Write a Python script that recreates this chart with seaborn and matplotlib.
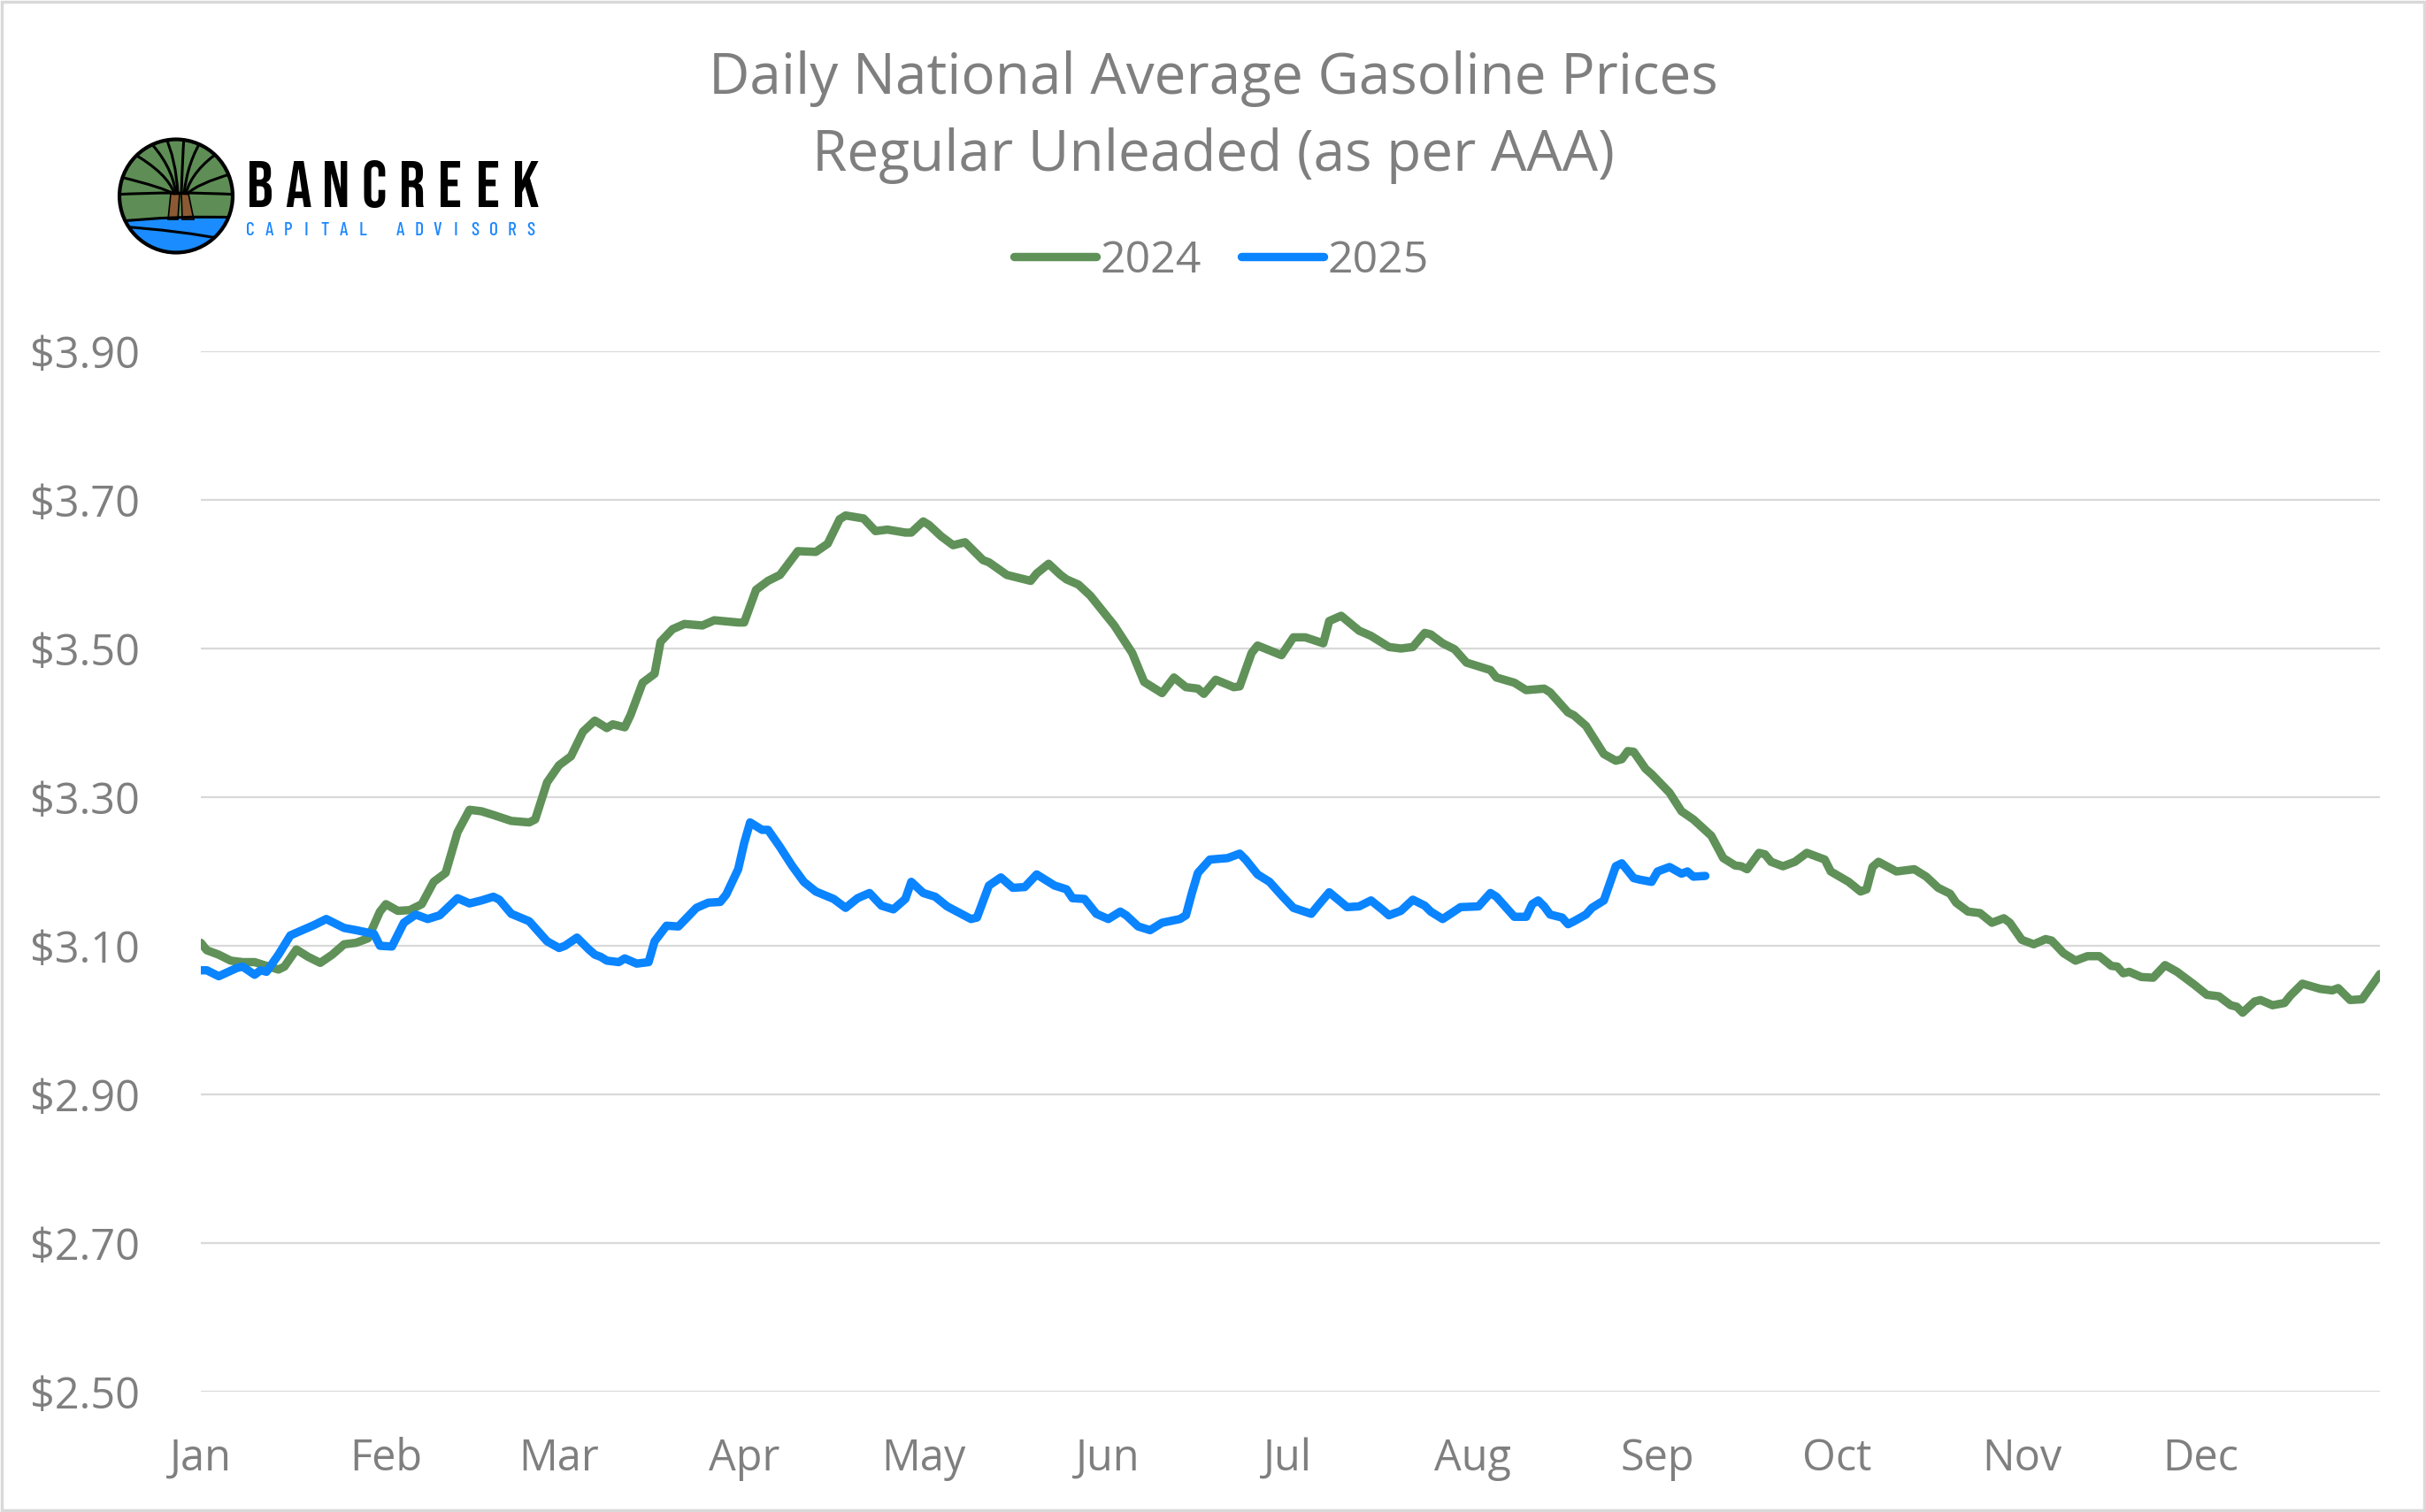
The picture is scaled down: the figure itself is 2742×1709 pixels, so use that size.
import numpy as np
import pandas as pd
import matplotlib
matplotlib.use("Agg")
import matplotlib.pyplot as plt
import seaborn as sns
from matplotlib.patches import Circle, Polygon, PathPatch, Rectangle
from matplotlib.path import Path
from matplotlib.ticker import FuncFormatter

# ---------------- data (day-of-year, $/gal) ----------------
days_2024 = [0, 1, 3, 5, 7, 9, 11, 13, 14, 16, 18, 20, 22, 24, 26, 28, 30, 31, 33, 35,
             37, 39, 41, 43, 45, 47, 49, 52, 55, 56, 58, 60, 62, 64, 66, 68, 69, 71, 72, 74,
             76, 77, 79, 81, 84, 86, 90, 91, 93, 95, 97, 100, 103, 105, 107, 108, 111, 113, 115, 118,
             119, 121, 122, 124, 126, 128, 131, 132, 135, 139, 140, 142, 144, 145, 147, 149, 150, 152, 153, 156,
             158, 161, 163, 165, 167, 168, 170, 173, 174, 176, 177, 181, 183, 185, 188, 189, 191, 194, 196, 199,
             201, 203, 205, 206, 208, 210, 212, 216, 217, 220, 222, 225, 226, 229, 230, 232, 235, 237, 238, 239,
             240, 242, 243, 246, 248, 250, 253, 255, 257, 258, 259, 261, 262, 263, 265, 267, 269, 272, 273, 276,
             278, 279, 280, 281, 284, 287, 289, 291, 293, 294, 296, 298, 300, 302, 303, 305, 307, 309, 310, 312,
             314, 316, 318, 320, 321, 322, 323, 325, 327, 329, 331, 334, 336, 338, 340, 341, 342, 344, 345, 347,
             349, 350, 352, 355, 357, 358, 360, 362, 365]
price_2024 = [3.104, 3.094, 3.088, 3.080, 3.078, 3.078, 3.073, 3.068, 3.072, 3.095, 3.085, 3.077, 3.088, 3.102, 3.104, 3.110, 3.146, 3.156, 3.147, 3.148,
              3.156, 3.186, 3.198, 3.253, 3.283, 3.281, 3.276, 3.268, 3.266, 3.270, 3.320, 3.343, 3.355, 3.388, 3.403, 3.393, 3.398, 3.394, 3.411, 3.454,
              3.466, 3.509, 3.526, 3.533, 3.531, 3.538, 3.535, 3.535, 3.579, 3.591, 3.599, 3.631, 3.630, 3.641, 3.674, 3.679, 3.675, 3.658, 3.660, 3.656,
              3.656, 3.671, 3.666, 3.651, 3.639, 3.643, 3.619, 3.616, 3.599, 3.591, 3.601, 3.614, 3.599, 3.593, 3.586, 3.571, 3.561, 3.541, 3.531, 3.494,
              3.455, 3.440, 3.461, 3.448, 3.446, 3.439, 3.458, 3.448, 3.449, 3.494, 3.504, 3.491, 3.515, 3.515, 3.507, 3.537, 3.544, 3.524, 3.517, 3.502,
              3.500, 3.502, 3.521, 3.519, 3.507, 3.499, 3.481, 3.471, 3.461, 3.454, 3.444, 3.446, 3.441, 3.414, 3.410, 3.396, 3.358, 3.349, 3.351, 3.362,
              3.361, 3.338, 3.331, 3.306, 3.281, 3.270, 3.248, 3.218, 3.208, 3.207, 3.203, 3.225, 3.223, 3.213, 3.207, 3.213, 3.225, 3.216, 3.200, 3.186,
              3.173, 3.176, 3.206, 3.213, 3.200, 3.203, 3.193, 3.178, 3.170, 3.158, 3.146, 3.144, 3.131, 3.137, 3.131, 3.108, 3.102, 3.109, 3.107, 3.090,
              3.080, 3.086, 3.086, 3.073, 3.072, 3.063, 3.065, 3.058, 3.057, 3.074, 3.065, 3.047, 3.034, 3.032, 3.020, 3.018, 3.010, 3.025, 3.027, 3.020,
              3.023, 3.033, 3.049, 3.042, 3.040, 3.043, 3.027, 3.028, 3.062]

days_2025 = [0, 1, 3, 6, 7, 9, 10, 11, 13, 15, 17, 19, 21, 24, 26, 29, 30, 32, 34, 36,
             38, 40, 43, 45, 47, 49, 50, 52, 55, 58, 60, 61, 63, 65, 66, 67, 68, 70, 71, 73,
             75, 76, 78, 80, 83, 85, 87, 88, 90, 91, 92, 94, 95, 97, 99, 101, 103, 106, 108, 110,
             112, 114, 116, 118, 119, 121, 123, 125, 129, 130, 132, 134, 136, 138, 140, 143, 145, 146, 148, 150,
             152, 154, 155, 157, 159, 161, 164, 165, 166, 167, 169, 172, 174, 175, 177, 179, 181, 183, 186, 187,
             189, 192, 194, 196, 198, 199, 201, 203, 205, 206, 208, 211, 214, 216, 217, 219, 220, 222, 223, 224,
             225, 226, 228, 229, 230, 232, 233, 235, 237, 238, 240, 241, 243, 244, 246, 248, 249, 250, 252]
price_2025 = [3.067, 3.067, 3.059, 3.070, 3.072, 3.061, 3.067, 3.065, 3.088, 3.114, 3.121, 3.128, 3.136, 3.124, 3.121, 3.116, 3.100, 3.099, 3.131, 3.142,
              3.136, 3.141, 3.164, 3.157, 3.161, 3.166, 3.162, 3.143, 3.133, 3.106, 3.097, 3.100, 3.111, 3.095, 3.088, 3.085, 3.080, 3.078, 3.083, 3.076,
              3.078, 3.106, 3.127, 3.126, 3.151, 3.158, 3.159, 3.169, 3.203, 3.238, 3.266, 3.256, 3.256, 3.233, 3.208, 3.186, 3.173, 3.163, 3.151, 3.164,
              3.171, 3.154, 3.149, 3.163, 3.186, 3.171, 3.166, 3.153, 3.136, 3.138, 3.181, 3.192, 3.178, 3.179, 3.196, 3.181, 3.176, 3.164, 3.163, 3.143,
              3.136, 3.146, 3.141, 3.126, 3.121, 3.131, 3.136, 3.141, 3.171, 3.198, 3.216, 3.218, 3.224, 3.216, 3.196, 3.186, 3.168, 3.151, 3.143, 3.153,
              3.172, 3.152, 3.153, 3.161, 3.148, 3.141, 3.147, 3.162, 3.154, 3.146, 3.136, 3.152, 3.153, 3.171, 3.166, 3.148, 3.139, 3.139, 3.156, 3.161,
              3.153, 3.142, 3.138, 3.129, 3.133, 3.142, 3.151, 3.161, 3.207, 3.211, 3.191, 3.189, 3.186, 3.200, 3.206, 3.197, 3.200, 3.193, 3.194]

month_labels = ["Jan", "Feb", "Mar", "Apr", "May", "Jun", "Jul", "Aug", "Sep", "Oct", "Nov", "Dec"]
month_start_days = [0, 31, 60, 91, 121, 152, 182, 213, 244, 274, 305, 335]
y_ticks = [2.50, 2.70, 2.90, 3.10, 3.30, 3.50, 3.70, 3.90]
series_names = ["2024", "2025"]
series_colors = {"2024": "#5F9158", "2025": "#0A84FF"}

df = pd.concat([
    pd.DataFrame({"day": days_2024, "price": price_2024, "year": "2024"}),
    pd.DataFrame({"day": days_2025, "price": price_2025, "year": "2025"}),
], ignore_index=True)

# ---------------- style ----------------
sns.set_theme(style="white")
plt.rcParams["font.family"] = ["Open Sans", "DejaVu Sans"]
GRAY = "#7F7F7F"

W, H = 2742, 1709
fig = plt.figure(figsize=(W / 100, H / 100), dpi=100)
fig.patch.set_facecolor("white")

left, right, top, bottom = 227, 2690, 397, 1573
ax = fig.add_axes([left / W, 1 - bottom / H, (right - left) / W, (bottom - top) / H])

sns.lineplot(data=df, x="day", y="price", hue="year", palette=series_colors,
             hue_order=series_names, linewidth=6.8, estimator=None, sort=False,
             ax=ax, legend=True)
for ln in ax.get_lines():
    ln.set_solid_capstyle("round")
    ln.set_solid_joinstyle("round")

ax.set_xlim(0, 365)
ax.set_ylim(2.50, 3.90)
ax.set_yticks(y_ticks)
ax.yaxis.set_major_formatter(FuncFormatter(lambda v, p: f"${v:.2f}"))
ax.set_xticks(month_start_days)
ax.set_xticklabels(month_labels)
ax.set_xlabel("")
ax.set_ylabel("")
ax.grid(axis="y", color="#D9D9D9", linewidth=1.6)
ax.grid(axis="x", visible=False)
ax.set_axisbelow(True)
for s in ax.spines.values():
    s.set_visible(False)
ax.tick_params(axis="y", length=0, pad=50, labelsize=35, labelcolor=GRAY)
ax.tick_params(axis="x", length=0, pad=37, labelsize=35, labelcolor=GRAY)

handles, labels = ax.get_legend_handles_labels()
leg = ax.legend(handles, labels, loc="center", bbox_to_anchor=(0.5035, 1 - 295 / H),
                bbox_transform=fig.transFigure, ncol=2, frameon=False, fontsize=36,
                handlelength=1.85, handletextpad=0.1, columnspacing=0.9)
for t in leg.get_texts():
    t.set_color(GRAY)
for h in leg.get_lines():
    h.set_linewidth(6.8)
    h.set_solid_capstyle("round")

# ---------------- titles ----------------
fig.text(0.5, 1 - 89 / H, "Daily National Average Gasoline Prices", ha="center", va="center",
         fontsize=46, color=GRAY)
fig.text(0.5, 1 - 176 / H, "Regular Unleaded (as per AAA)", ha="center", va="center",
         fontsize=46, color=GRAY)

# ---------------- border ----------------
fig.add_artist(Rectangle((0.0008, 0.0012), 0.9984, 0.9976, transform=fig.transFigure,
                         fill=False, edgecolor="#D9D9D9", linewidth=2.5))

# ---------------- logo ----------------
word = "BANCREEK"
x0, x1 = 294, 594
for i, ch in enumerate(word):
    xc = x0 + (x1 - x0) * i / (len(word) - 1)
    fig.text(xc / W, 1 - 234 / H, ch, ha="center", va="baseline",
             family=["Bebas Neue", "Oswald", "DejaVu Sans"], fontsize=53, color="black")
sub = "CAPITAL ADVISORS"
s0, s1 = 283, 600
for i, ch in enumerate(sub):
    if ch == " ":
        continue
    xc = s0 + (s1 - s0) * i / (len(sub) - 1)
    fig.text(xc / W, 1 - 266 / H, ch, ha="center", va="baseline",
             family=["Barlow Condensed", "DejaVu Sans"], fontweight="medium",
             fontsize=15.5, color="#1E88FF")

lax = fig.add_axes([128 / W, 1 - 292 / H, 142 / W, 142 / H])
lax.set_xlim(128, 270)
lax.set_ylim(292, 150)
lax.set_aspect("equal")
lax.axis("off")
cx, cy, r = 199, 221.5, 64
clip = Circle((cx, cy), r, transform=lax.transData)
bg = Circle((cx, cy), r, facecolor="#5E8E55", edgecolor="none")
lax.add_patch(bg)
water = Polygon([(128, 250), (200, 246), (270, 246), (270, 292), (128, 292)],
                facecolor="#1A8CFF", edgecolor="none")
lax.add_patch(water)
water.set_clip_path(clip)
trunk1 = Polygon([(193, 219), (203, 219), (201, 248), (190, 248)], facecolor="#8B5A33",
                 edgecolor="black", linewidth=1.2)
trunk2 = Polygon([(205, 219), (213, 219), (219, 248), (206, 248)], facecolor="#8B5A33",
                 edgecolor="black", linewidth=1.2)
lax.add_patch(trunk1)
lax.add_patch(trunk2)

def curve(p0, c, p1, lw=2.2):
    pp = PathPatch(Path([p0, c, p1], [Path.MOVETO, Path.CURVE3, Path.CURVE3]),
                   fill=False, edgecolor="black", linewidth=lw, capstyle="round")
    lax.add_patch(pp)
    pp.set_clip_path(clip)

curve((128, 220), (200, 216), (270, 220))
curve((128, 251), (200, 243), (270, 246))
curve((135, 256), (200, 260), (262, 272))
# canopy branches: rise from trunk, then bend outward (vase shape)
for start, ctrl, end in [((196, 219), (185, 212), (136, 200)),
                         ((197, 219), (190, 196), (148, 172)),
                         ((199, 219), (194, 185), (166, 157)),
                         ((201, 219), (199, 180), (186, 152)),
                         ((205, 219), (206, 185), (208, 153)),
                         ((208, 219), (212, 182), (230, 155)),
                         ((210, 219), (217, 192), (250, 170)),
                         ((212, 219), (222, 208), (263, 196))]:
    curve(start, ctrl, end)
rim = Circle((cx, cy), r, facecolor="none", edgecolor="black", linewidth=3)
lax.add_patch(rim)

fig.savefig("out.png", dpi=100, facecolor="white")
